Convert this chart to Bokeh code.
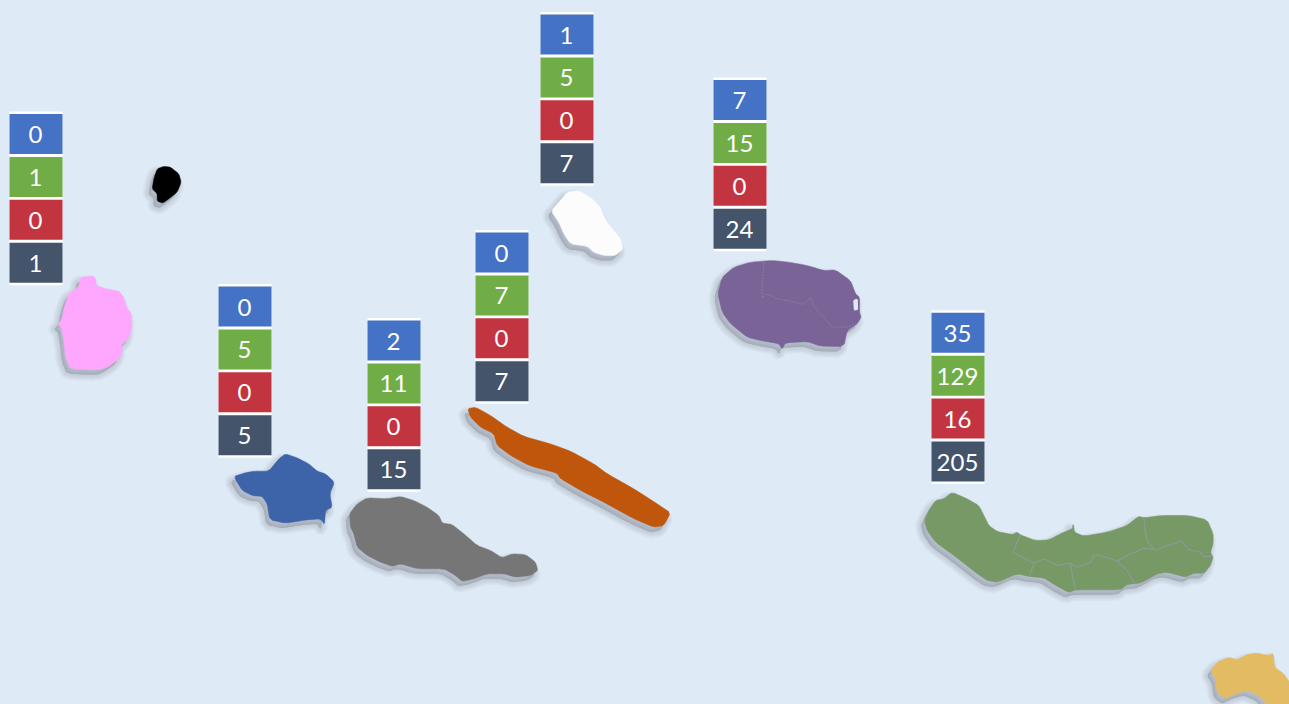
from bokeh.plotting import figure
from bokeh.models import Range1d
from bokeh.embed import file_html
from bokeh.resources import INLINE
from bokeh.core.properties import value
import numpy as np

# ---- table values, one list per island, rows top to bottom
flores = [0, 1, 0, 1]
faial = [0, 5, 0, 5]
pico = [2, 11, 0, 15]
sao_jorge = [0, 7, 0, 7]
graciosa = [1, 5, 0, 7]
terceira = [7, 15, 0, 24]
sao_miguel = [35, 129, 16, 205]

tables = [flores, faial, pico, sao_jorge, graciosa, terceira, sao_miguel]
table_left = [9, 218, 367, 475, 540, 713, 931]
table_top = [113.5, 286, 320, 232, 14, 79.5, 312.3]
row_colors = ["#4472C4", "#70AD47", "#C33441", "#44546A"]
CELL_W, CELL_H, PITCH = 53, 40, 42.9

# ---- island outlines: (origin x, origin y) + points at 3x
def trace(ox, oy, pts, rounds=1):
    a = np.array(pts, dtype=float)
    a = np.column_stack((ox + a[:, 0] / 3, oy + a[:, 1] / 3))
    # slight corner rounding of the traced coast
    for _ in range(rounds):
        b = np.roll(a, -1, axis=0)
        a = np.column_stack((0.85 * a + 0.15 * b, 0.15 * a + 0.85 * b)).reshape(-1, 2)
    return a[:, 0].tolist(), a[:, 1].tolist()

def path(ox, oy, pts):
    a = np.array(pts, dtype=float)
    return (ox + a[:, 0] / 3).tolist(), (oy + a[:, 1] / 3).tolist()

outline_flores = trace(0, 100, [(240,530),(283,527),(287,555),(315,565),(355,572),(370,590),(378,620),(393,640),(392,690),(385,712),(362,735),(367,750),(355,775),(325,797),(300,808),(210,805),(195,770),(190,720),(183,680),(172,672),(185,655),(190,625),(205,580),(235,560)])
outline_corvo = trace(0, 100, [(470,205),(490,198),(510,200),(535,220),(542,245),(530,275),(505,295),(487,308),(470,302),(470,280),(455,265),(460,235)])
outline_faial = trace(210, 400, [(70,228),(100,218),(130,212),(175,212),(205,175),(225,160),(260,172),(295,190),(320,212),(345,220),(372,245),(358,280),(365,320),(345,330),(342,372),(330,355),(290,358),(225,368),(178,358),(170,310),(155,288),(125,285),(95,270)])
outline_pico = trace(210, 400, [(417,340),(440,310),(470,292),(530,295),(570,288),(610,300),(650,320),(685,345),(695,368),(725,372),(760,400),(800,435),(840,450),(875,472),(905,460),(945,462),(975,485),(982,510),(960,525),(915,530),(880,520),(830,520),(790,535),(755,543),(735,525),(700,505),(620,505),(570,490),(545,498),(510,485),(470,465),(440,440),(430,400),(420,380)])
outline_jorge = trace(460, 180, [(22,685),(45,680),(90,705),(140,740),(190,768),(270,790),(330,812),(400,850),(440,880),(520,925),(590,970),(630,997),(610,1035),(580,1040),(520,1015),(430,965),(370,935),(300,895),(290,878),(205,855),(150,825),(110,795),(100,760),(60,740),(30,710)])
outline_graciosa = trace(460, 180, [(272,92),(300,60),(320,35),(355,30),(395,55),(420,80),(435,120),(460,150),(480,175),(487,205),(465,225),(430,225),(400,215),(380,197),(330,190),(310,160),(295,125)])
outline_terceira = trace(460, 180, [(772,340),(785,290),(820,260),(870,245),(935,240),(985,245),(1040,255),(1090,270),(1125,268),(1170,300),(1185,340),(1197,350),(1197,395),(1202,410),(1190,430),(1160,450),(1150,498),(1080,497),(1040,483),(975,487),(965,505),(955,490),(900,480),(860,470),(810,430),(785,395)])
outline_miguel = trace(900, 470, [(72,150),(85,120),(105,90),(130,85),(155,65),(200,85),(235,105),(250,135),(265,165),(290,183),(335,192),(350,185),(360,193),(405,210),(445,208),(490,185),(515,175),(518,160),(522,185),(550,197),(620,185),(680,165),(715,137),(730,142),(785,135),(865,135),(920,148),(938,190),(938,220),(930,245),(938,260),(930,285),(910,308),(880,308),(855,320),(800,305),(770,310),(720,338),(680,342),(660,358),(525,358),(505,366),(465,345),(430,322),(385,318),(350,310),(290,335),(260,330),(230,310),(160,255),(105,215),(80,180)])
outline_maria = trace(900, 470, [(930,600),(950,575),(985,560),(1010,568),(1040,552),(1070,548),(1105,555),(1118,548),(1122,590),(1150,610),(1167,635),(1175,720),(1100,702),(1075,675),(1040,660),(1005,670),(975,685),(950,665),(945,625)])

islands = [outline_flores, outline_corvo, outline_faial, outline_pico, outline_jorge,
           outline_graciosa, outline_terceira, outline_miguel, outline_maria]
island_colors = ["#FFA6FF", "#000000", "#3D63A8", "#767676", "#BF560B",
                 "#FCFCFC", "#7A6396", "#779966", "#E3BB63"]

terceira_borders = [path(460, 180, [(910,245),(905,320),(905,352),(918,340),(950,355),(990,362),(1030,372),(1050,352),(1060,378),(1115,440),(1160,440),(1190,430)])]
miguel_borders = [
    path(900, 470, [(360,193),(348,220),(338,245),(370,262),(400,278),(388,318)]),
    path(900, 470, [(400,278),(430,265),(470,285),(510,278),(515,310),(525,358)]),
    path(900, 470, [(510,278),(530,290),(570,275),(582,252),(620,260),(650,272),(680,300),(702,338)]),
    path(900, 470, [(650,272),(680,255),(730,233),(765,238),(800,225),(845,212),(865,238),(900,245),(910,258),(938,258)]),
    path(900, 470, [(730,142),(735,190),(745,220),(765,238)]),
]
terceira_notch = trace(460, 180, [(1178,358),(1192,354),(1193,388),(1180,390)])

BG = "#DEEAF6"
p = figure(width=1289, height=704, output_backend="svg", toolbar_location=None,
           x_range=Range1d(0, 1289), y_range=Range1d(704, 0),
           x_axis_type=None, y_axis_type=None, min_border=0,
           background_fill_color=BG, border_fill_color=BG, outline_line_color=None)
p.grid.visible = False

# soft drop shadow: nested translucent copies, shifted down-left
for width in [13, 11, 9, 7, 5, 3, 1]:
    p.patches([(np.array(x) - 3.5).tolist() for x, y in islands],
              [(np.array(y) + 5).tolist() for x, y in islands],
              fill_color="#3A4658", fill_alpha=0.03, line_color="#3A4658", line_alpha=0.028,
              line_width=width, line_join="round")

p.patches([x for x, y in islands], [y for x, y in islands],
          fill_color=island_colors, line_color=island_colors, line_width=0.5)
p.patch(*terceira_notch, fill_color=BG, line_color=None)
p.multi_line([x for x, y in miguel_borders], [y for x, y in miguel_borders],
             line_color="#8D9A96", line_width=1.1)
p.multi_line([x for x, y in terceira_borders], [y for x, y in terceira_borders],
             line_color="#8F7FA8", line_width=0.8, line_dash="2 1")

# tables
for left, top, vals in zip(table_left, table_top, tables):
    n = len(vals)
    p.quad(left=[left], right=[left + CELL_W], top=[top - 2.5], bottom=[top + (n - 1) * PITCH + CELL_H + 2.5],
           fill_color="#FFFFFF", line_color=None)
    tops = [top + i * PITCH for i in range(n)]
    p.quad(left=[left] * n, right=[left + CELL_W] * n, top=tops,
           bottom=[t + CELL_H for t in tops], fill_color=row_colors, line_color=None)
    p.text(x=[left + CELL_W / 2 - 0.5] * n, y=[t + CELL_H / 2 + 0.5 for t in tops], text=[str(v) for v in vals],
           text_color="#FFFFFF", text_font=value("Lato"), text_font_size="24px",
           text_align="center", text_baseline="middle")

html = file_html(p, INLINE)
html = html.replace("</head>", f"<style>html,body{{margin:0;padding:0;overflow:hidden;background:{BG}}}</style></head>", 1)
open("out.html", "w").write(html)
